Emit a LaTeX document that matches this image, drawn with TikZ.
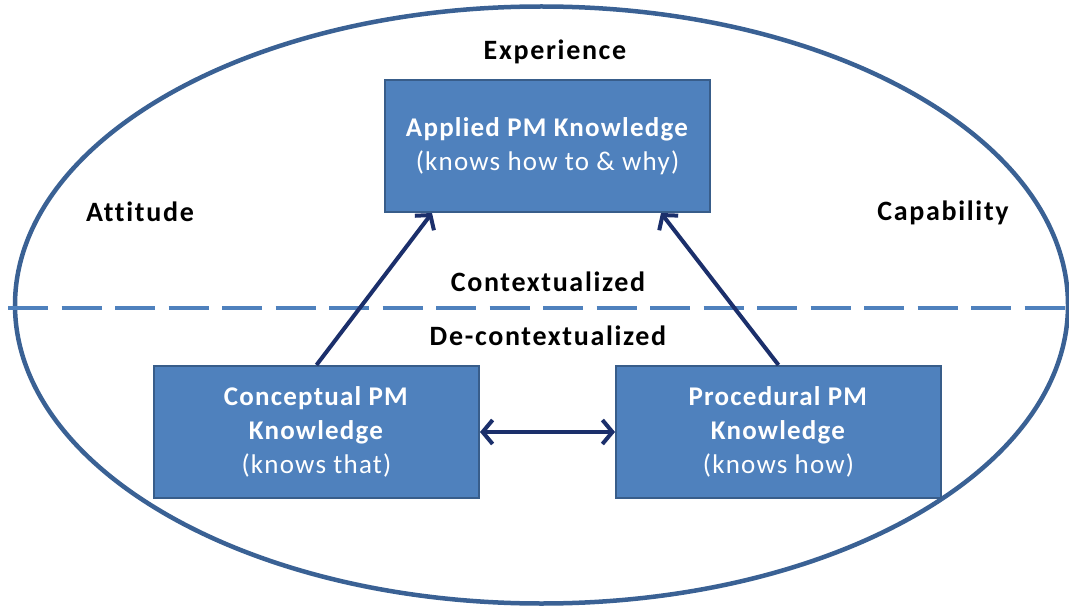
\documentclass[tikz,border=0pt]{standalone}
\usepackage{fontspec}
\setmainfont{Carlito}[Ligatures=NoCommon]
\usetikzlibrary{arrows.meta}
\definecolor{boxfill}{HTML}{4F81BD}
\definecolor{boxline}{HTML}{385D8A}
\definecolor{ellline}{HTML}{3A6194}
\definecolor{arrowc}{HTML}{1B2F6B}
\tikzset{
  kbox/.style={draw=boxline, line width=2pt, fill=boxfill, text=white,
    minimum width=325pt, minimum height=132pt, inner sep=0pt, align=center,
    font=\fontsize{27}{34}\selectfont\addfontfeatures{LetterSpace=4.5}},
  lbl/.style={font=\fontsize{28}{30}\selectfont\bfseries\addfontfeatures{LetterSpace=6}, text=black, inner sep=0pt},
  conn/.style={draw=arrowc, line width=4pt,
    -{Straight Barb[length=10pt,width=24pt,line width=4pt]}},
  dconn/.style={draw=arrowc, line width=4pt,
    {Straight Barb[length=10pt,width=24pt,line width=4pt]}-{Straight Barb[length=10pt,width=24pt,line width=4pt]}}
}
\begin{document}
\begin{tikzpicture}[x=1pt,y=-1pt]
\useasboundingbox (0,0) rectangle (1069,607);
\fill[white] (0,0) rectangle (1069,607);
\draw[ellline, line width=4.5pt] (541.5,305) ellipse [x radius=526.5, y radius=298.5];
\draw[boxfill, line width=4.5pt, dash pattern=on 40pt off 13.5pt] (8,308) -- (1069,308);
\node[kbox] (applied) at (547.5,146) {\textbf{Applied PM Knowledge}\\(knows how to \& why)};
\node[kbox] (concept) at (316.5,432) {\textbf{Conceptual PM}\\\textbf{Knowledge}\\(knows that)};
\node[kbox] (proc) at (778.5,432) {\textbf{Procedural PM}\\\textbf{Knowledge}\\(knows how)};
\node[lbl] (exp) at (555,52) {Experience};
\node[lbl] (att) at (140,212) {Attitude};
\node[lbl] (cap) at (943,213) {Capability};
\node[lbl] (ctx) at (548,282) {Contextualized};
\node[lbl] (dctx) at (548,336) {De-contextualized};
\draw[conn] (concept.north) -- ([xshift=48pt]applied.south west);
\draw[conn] (proc.north) -- ([xshift=-50pt]applied.south east);
\draw[dconn] (concept.east) -- (proc.west);
\end{tikzpicture}
\end{document}
